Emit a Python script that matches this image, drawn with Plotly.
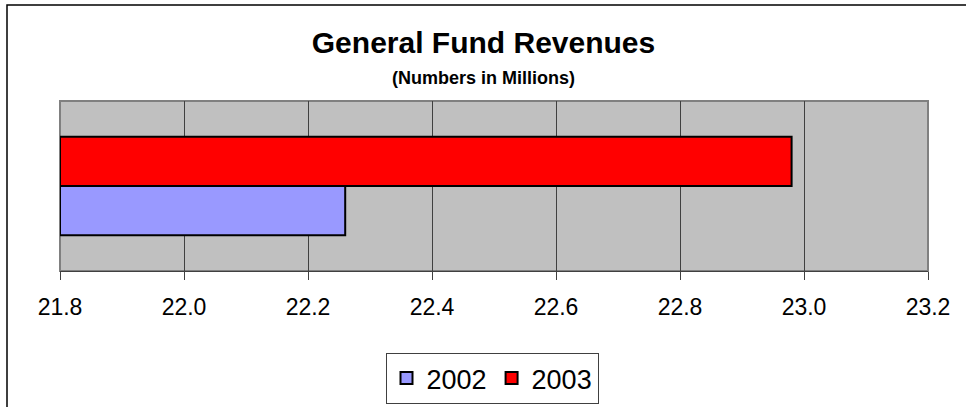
import plotly.graph_objects as go

# data (millions)
years = ["2002", "2003"]
revenues = [22.26, 22.98]
bar_colors = ["#9999FF", "#FF0000"]
category = ["General Fund"]

axis_min = 21.8
axis_max = 23.2
tick_step = 0.2

W, H = 967, 407
M_L, M_R, M_T, M_B = 60, 39, 101, 136
FONT = "Arial, 'Liberation Sans', sans-serif"


def px_x(px):
    return (px - M_L) / (W - M_L - M_R)


def px_y(py):
    return (H - M_B - py) / (H - M_T - M_B)


fig = go.Figure()
for year, value, color in zip(years, revenues, bar_colors):
    fig.add_trace(go.Bar(
        y=category,
        x=[value - axis_min],
        base=axis_min,
        name=year,
        orientation="h",
        marker=dict(color=color, line=dict(color="black", width=2)),
        hovertemplate=f"{year}: {value}<extra></extra>",
    ))

fig.update_layout(
    width=W, height=H,
    margin=dict(l=M_L, r=M_R, t=M_T, b=M_B, autoexpand=False),
    paper_bgcolor="white",
    plot_bgcolor="#C0C0C0",
    barmode="group",
    bargap=0.42,
    bargroupgap=0,
    font=dict(family=FONT, color="black"),
    title=dict(text="<b>General Fund Revenues</b>", x=0.5, xanchor="center",
               y=1 - 42 / H, yanchor="middle", font=dict(size=30, family=FONT)),
    showlegend=True,
    legend=dict(orientation="h", x=px_x(492), xanchor="center", y=px_y(353), yanchor="top",
                bordercolor="#404040", borderwidth=1, bgcolor="white",
                font=dict(size=27, family=FONT), traceorder="normal"),
)

fig.update_xaxes(
    range=[axis_min, axis_max], dtick=tick_step, tick0=axis_min, tickformat=".1f",
    showgrid=True, gridcolor="#404040", gridwidth=1,
    ticks="outside", ticklen=8, tickcolor="#404040", tickwidth=1,
    showline=True, linecolor="#404040", linewidth=1,
    tickfont=dict(size=23, family=FONT), ticklabelstandoff=7,
    zeroline=False, fixedrange=True, automargin=False,
)
fig.update_yaxes(showticklabels=False, showgrid=False, zeroline=False, fixedrange=True,
                 automargin=False)

# subtitle
fig.add_annotation(text="<b>(Numbers in Millions)</b>", xref="paper", yref="paper",
                   x=px_x(W / 2), y=px_y(78), xanchor="center", yanchor="middle",
                   showarrow=False, font=dict(size=18, family=FONT))

# plot-area border
fig.add_shape(type="rect", xref="x domain", yref="y domain", x0=0, x1=1, y0=0, y1=1,
              line=dict(color="#808080", width=2), layer="below")

# outer chart frame (top and left edges visible)
fig.add_shape(type="path", xref="paper", yref="paper",
              path=f"M {px_x(7)},{px_y(420)} L {px_x(7)},{px_y(5)} L {px_x(966)},{px_y(5)}",
              line=dict(color="black", width=1.5))

fig.write_html("out.html", config={"displayModeBar": False},
               post_script="document.body.style.margin = '0';")
